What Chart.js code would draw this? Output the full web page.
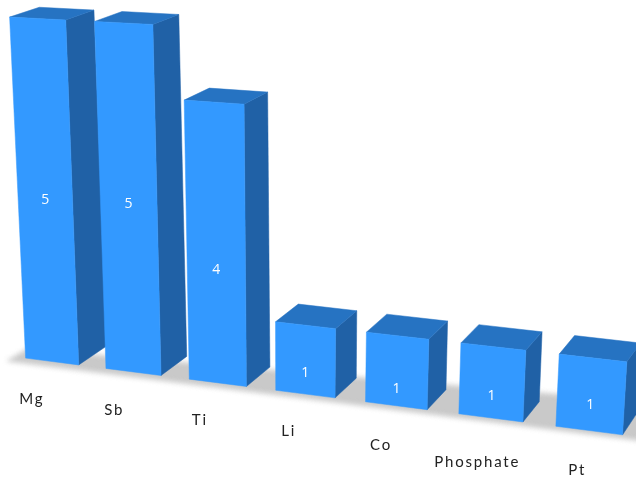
<!DOCTYPE html>
<html lang="en">
  <head>
    <meta charset="UTF-8" />
    <script src="https://cdn.jsdelivr.net/npm/chart.js"></script>
    <title>Elements</title>
    <style>
      html, body { margin: 0; padding: 0; background: #fff; }
      #wrap { width: 636px; height: 478px; overflow: hidden; }
      #myChart { filter: blur(0.4px); }
    </style>
  </head>

  <body>
    <div id="wrap"><canvas id="myChart"></canvas></div>
    <script>
      const categories = ["Mg", "Sb", "Ti", "Li", "Co", "Phosphate", "Pt"];
      const counts = [5, 5, 4, 1, 1, 1, 1];

      // where the value text sits inside each bar, as a share of the bar height
      const labelShare = [0.486, 0.497, 0.414, 0.31, 0.247, 0.307, 0.357];
      // small vertical nudges for the category labels, Phosphate sits lower than the rest
      const labelDrop = [2, 1, 0, -1, 0, 4, -2];

      // screen corners of the front plane: first/last bar centre at value 0 and at value 5
      const quad = [[52, 361.5], [589, 430.5], [609, 48], [37.5, 18.5]];
      const depthPoint = [1150, -360];
      const depth = 0.026;

      function makeProjection(q) {
        const [p0, p1, p2, p3] = q;
        const dx1 = p1[0] - p2[0], dx2 = p3[0] - p2[0], sx = p0[0] - p1[0] + p2[0] - p3[0];
        const dy1 = p1[1] - p2[1], dy2 = p3[1] - p2[1], sy = p0[1] - p1[1] + p2[1] - p3[1];
        const den = dx1 * dy2 - dx2 * dy1;
        const g = (sx * dy2 - dx2 * sy) / den;
        const h = (dx1 * sy - sx * dy1) / den;
        const a = p1[0] - p0[0] + g * p1[0], b = p3[0] - p0[0] + h * p3[0];
        const d = p1[1] - p0[1] + g * p1[1], e = p3[1] - p0[1] + h * p3[1];
        return (s, t) => {
          const w = g * s + h * t + 1;
          return [(a * s + b * t + p0[0]) / w, (d * s + e * t + p0[1]) / w];
        };
      }
      const project = makeProjection(quad);

      function back(p) {
        return [p[0] + (depthPoint[0] - p[0]) * depth, p[1] + (depthPoint[1] - p[1]) * depth];
      }

      function poly(ctx, pts, color) {
        ctx.fillStyle = color;
        ctx.strokeStyle = color;
        ctx.lineWidth = 0.5;
        ctx.beginPath();
        pts.forEach((p, i) => (i ? ctx.lineTo(p[0], p[1]) : ctx.moveTo(p[0], p[1])));
        ctx.closePath();
        ctx.fill();
        ctx.stroke();
      }

      const bars3d = {
        id: "bars3d",
        beforeDatasetsDraw(chart) {
          const ctx = chart.ctx;
          const xs = chart.scales.x, ys = chart.scales.y;
          const u0 = xs.getPixelForValue(0), span = xs.getPixelForValue(categories.length - 1) - u0;
          const toS = (u) => (u - u0) / span;
          const toT = (v) => v / ys.max;

          // floor shadow
          ctx.save();
          ctx.filter = "blur(2.5px)";
          poly(ctx, [[7, 361], [27, 349], [660, 403], [660, 443]], "#c9c9c9");
          ctx.restore();

          chart.getDatasetMeta(0).data.forEach((el, i) => {
            const hw = el.width / 2;
            const sL = toS(el.x - hw), sR = toS(el.x + hw);
            const t = toT(counts[i]);
            const fbl = project(sL, 0), fbr = project(sR, 0);
            const ftl = project(sL, t), ftr = project(sR, t);

            poly(ctx, [fbr, ftr, back(ftr), back(fbr)], "#2061a6");
            poly(ctx, [ftl, ftr, back(ftr), back(ftl)], "#2673c2");
            poly(ctx, [fbl, fbr, ftr, ftl], "#3399ff");

            // value text
            const m = project(toS(el.x), t * labelShare[i]);
            ctx.fillStyle = "#ffffff";
            ctx.font = '14px "Open Sans"';
            ctx.textAlign = "center";
            ctx.textBaseline = "middle";
            ctx.fillText(String(counts[i]), m[0], m[1]);

            // category text under the bar
            const l = project(-0.046 + 1.03 * toS(el.x), -0.121);
            ctx.fillStyle = "#222222";
            ctx.font = '15px Lato';
            ctx.letterSpacing = "1.8px";
            ctx.fillText(categories[i], l[0], l[1] + labelDrop[i]);
            ctx.letterSpacing = "0px";
          });
          return false;
        },
      };

      new Chart(document.getElementById("myChart"), {
        type: "bar",
        data: {
          labels: categories,
          datasets: [{ data: counts, categoryPercentage: 1, barPercentage: 0.665, backgroundColor: "#3399ff" }],
        },
        options: {
          responsive: true,
          maintainAspectRatio: false,
          animation: false,
          layout: { padding: 0 },
          plugins: { legend: { display: false }, tooltip: { enabled: false } },
          scales: {
            x: { display: false },
            y: { display: false, min: 0, max: 5 },
          },
        },
        plugins: [bars3d],
      });
    </script>
  </body>
</html>
